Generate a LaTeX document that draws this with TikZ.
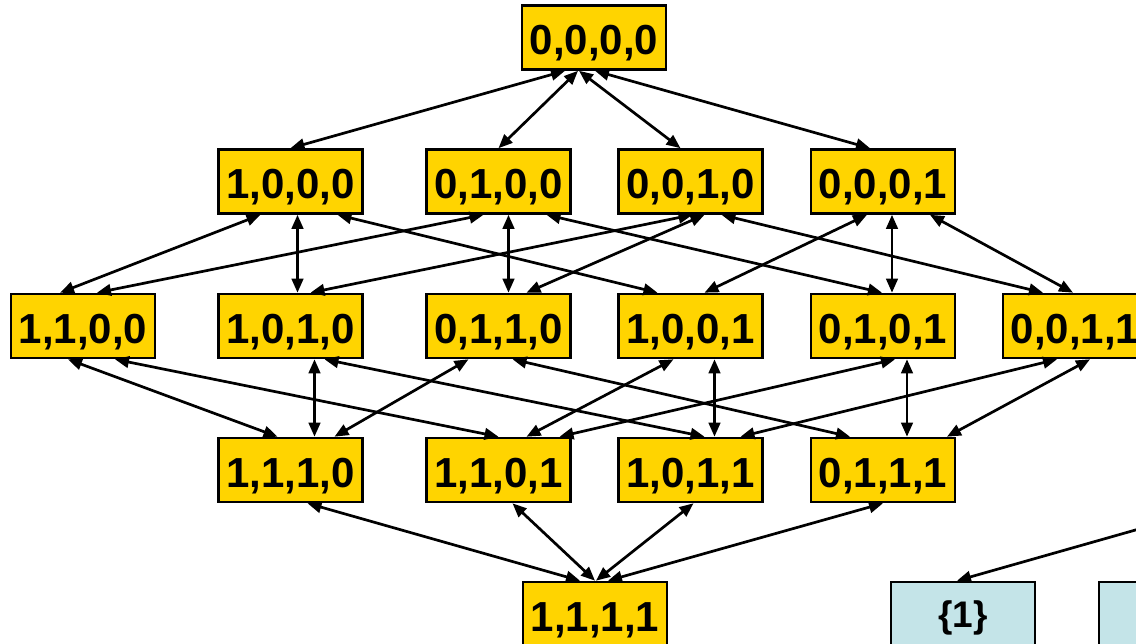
\documentclass[tikz,border=0pt]{standalone}
\usepackage{fontspec}
\setmainfont{Liberation Sans}
\usetikzlibrary{arrows.meta}
\definecolor{latyellow}{HTML}{FFD400}
\definecolor{setblue}{HTML}{C4E4E8}
\begin{document}
\begin{tikzpicture}[x=1pt,y=-1pt,
  lat/.style={draw=black, line width=2.6pt, fill=latyellow, inner sep=0pt,
    minimum width=144pt, minimum height=64pt, text height=35pt, text depth=0pt,
    font=\fontsize{42}{42}\selectfont\bfseries},
  setbox/.style={draw=black, line width=2.6pt, fill=setblue, inner sep=0pt,
    minimum width=144pt, minimum height=64pt, text height=27pt, text depth=0pt,
    font=\fontsize{37}{37}\selectfont\bfseries},
  link/.style={line width=2.7pt, {Triangle[length=14pt,width=11.5pt]}-{Triangle[length=14pt,width=11.5pt]}}]
\useasboundingbox (0,0) rectangle (1136,644);
\clip (0,0) rectangle (1136,644);

% top and bottom elements
\node[lat] (n0000) at (594,37.5) {0,0,0,0};
\node[lat] (n1111) at (595,614) {1,1,1,1};

% one-bit vectors
\node[lat] (n1000) at (290.5,181.5) {1,0,0,0};
\node[lat] (n0100) at (498.5,181.5) {0,1,0,0};
\node[lat] (n0010) at (690.5,181.5) {0,0,1,0};
\node[lat] (n0001) at (883,181.5) {0,0,0,1};

% two-bit vectors
\node[lat] (n1100) at (83,326) {1,1,0,0};
\node[lat] (n1010) at (290.5,326) {1,0,1,0};
\node[lat] (n0110) at (498.5,326) {0,1,1,0};
\node[lat] (n1001) at (690.5,326) {1,0,0,1};
\node[lat] (n0101) at (883,326) {0,1,0,1};
\node[lat] (n0011) at (1075,326) {0,0,1,1};

% three-bit vectors
\node[lat] (n1110) at (290.5,470) {1,1,1,0};
\node[lat] (n1101) at (498.5,470) {1,1,0,1};
\node[lat] (n1011) at (690.5,470) {1,0,1,1};
\node[lat] (n0111) at (883,470) {0,1,1,1};

% set nodes
\node[setbox] (s1) at (963,614) {\{1\}};
\node[setbox] (s2) at (1171,614) {};
\coordinate (sfar) at (1220,506);

% level 0 -- level 1
\draw[link] ([xshift=-29pt]n0000.south) -- (n1000.north);
\draw[link] ([xshift=-16pt]n0000.south) -- (n0100.north);
\draw[link] ([xshift=-15pt]n0000.south) -- ([xshift=-10pt]n0010.north);
\draw[link] ([xshift=1pt]n0000.south) -- ([xshift=-13pt]n0001.north);

% level 1 -- level 2
\draw[link] ([xshift=-30pt]n1000.south) -- ([xshift=-23pt]n1100.north);
\draw[link] ([xshift=7pt]n1000.south) -- ([xshift=7pt]n1010.north);
\draw[link] ([xshift=47pt]n1000.south) -- ([xshift=-33pt]n1001.north);
\draw[link] ([xshift=-15pt]n0100.south) -- ([xshift=14pt]n1100.north);
\draw[link] ([xshift=10pt]n0100.south) -- ([xshift=10pt]n0110.north);
\draw[link] ([xshift=48pt]n0100.south) -- ([xshift=-1pt]n0101.north);
\draw[link] ([xshift=2pt]n0010.south) -- ([xshift=20pt]n1010.north);
\draw[link] ([xshift=14pt]n0010.south) -- ([xshift=28pt]n0110.north);
\draw[link] ([xshift=31pt]n0010.south) -- ([xshift=-32pt]n0011.north);
\draw[link] ([xshift=-16pt]n0001.south) -- ([xshift=14pt]n1001.north);
\draw[link] ([xshift=9pt]n0001.south) -- ([xshift=9pt]n0101.north);
\draw[link] ([xshift=47pt]n0001.south) -- ([xshift=-2pt]n0011.north);

% level 2 -- level 3
\draw[link] ([xshift=-15pt]n1100.south) -- ([xshift=-13pt]n1110.north);
\draw[link] ([xshift=32pt]n1100.south) -- (n1101.north);
\draw[link] ([xshift=24pt]n1010.south) -- ([xshift=24pt]n1110.north);
\draw[link] ([xshift=34pt]n1010.south) -- ([xshift=14pt]n1011.north);
\draw[link] ([xshift=-30pt]n0110.south) -- ([xshift=44pt]n1110.north);
\draw[link] ([xshift=14pt]n0110.south) -- ([xshift=-33pt]n0111.north);
\draw[link] ([xshift=-17pt]n1001.south) -- ([xshift=28pt]n1101.north);
\draw[link] ([xshift=24pt]n1001.south) -- ([xshift=24pt]n1011.north);
\draw[link] ([xshift=12pt]n0101.south) -- ([xshift=61pt]n1101.north);
\draw[link] ([xshift=24pt]n0101.south) -- ([xshift=24pt]n0111.north);
\draw[link] ([xshift=-18pt]n0011.south) -- ([xshift=50pt]n1011.north);
\draw[link] ([xshift=15pt]n0011.south) -- ([xshift=64pt]n0111.north);

% level 3 -- level 4
\draw[link] ([xshift=17pt]n1110.south) -- ([xshift=-15pt]n1111.north);
\draw[link] ([xshift=14pt]n1101.south) -- (n1111.north);
\draw[link] ([xshift=3pt]n1011.south) -- ([xshift=1pt]n1111.north);
\draw[link] (n0111.south) -- ([xshift=13pt]n1111.north);

% link into the set nodes
\draw[link] (sfar) -- ([xshift=-6pt]s1.north);
\end{tikzpicture}
\end{document}
